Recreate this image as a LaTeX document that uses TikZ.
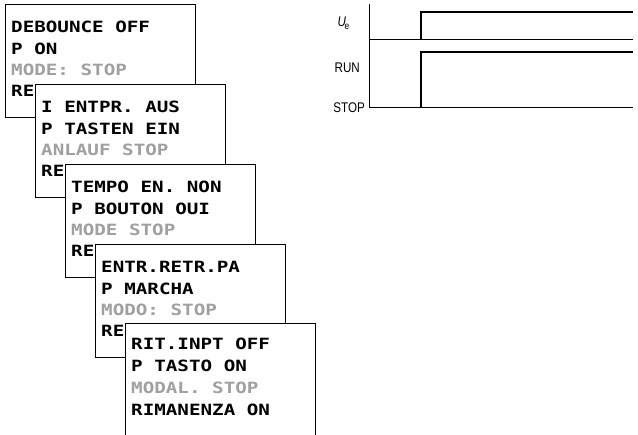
\documentclass[tikz,border=0pt]{standalone}
\usepackage{fontspec}
\setmainfont{Liberation Sans}
\newfontfamily\lcdfam[FakeStretch=1.24]{DejaVu Sans Mono Bold}
\newfontfamily\labfam[FakeStretch=0.83]{Liberation Sans}
\definecolor{lcdgrey}{HTML}{A0A0A0}
\newcommand{\lcdfont}{\lcdfam\fontsize{15.5}{15.5}\selectfont}
\tikzset{
  screen/.style={draw=black, fill=white, line width=0.9pt, minimum width=190pt, minimum height=113pt, anchor=north west, inner sep=0pt},
  lcdtxt/.style={anchor=base west, inner sep=0pt, font=\lcdfont},
  dimtxt/.style={lcdtxt, text=lcdgrey},
  axisline/.style={line width=0.9pt},
  sigline/.style={line width=2pt},
  lab/.style={font=\labfam\fontsize{14}{14}\selectfont, inner sep=0pt}
}
\begin{document}
\begin{tikzpicture}[x=1pt,y=-1pt]
\useasboundingbox (0,0) rectangle (638,435);
% screen 1
\node[screen] (s1) at (5,4) {};
\node[lcdtxt] (t11) at (11,33) {DEBOUNCE OFF};
\node[lcdtxt] (t12) at (11,54.2) {P ON};
\node[dimtxt] (t13) at (11,75.4) {MODE: STOP};
\node[lcdtxt] (t14) at (11,96.6) {RE};
% screen 2
\node[screen] (s2) at (35,84) {};
\node[lcdtxt] (t21) at (41,113) {I ENTPR. AUS};
\node[lcdtxt] (t22) at (41,134.2) {P TASTEN EIN};
\node[dimtxt] (t23) at (41,155.4) {ANLAUF STOP};
\node[lcdtxt] (t24) at (41,176.6) {RE};
% screen 3
\node[screen] (s3) at (65,164) {};
\node[lcdtxt] (t31) at (71,193) {TEMPO EN. NON};
\node[lcdtxt] (t32) at (71,214.2) {P BOUTON OUI};
\node[dimtxt] (t33) at (71,235.4) {MODE STOP};
\node[lcdtxt] (t34) at (71,256.6) {RE};
% screen 4
\node[screen] (s4) at (95,244) {};
\node[lcdtxt] (t41) at (101,273) {ENTR.RETR.PA};
\node[lcdtxt] (t42) at (101,294.2) {P MARCHA};
\node[dimtxt] (t43) at (101,315.4) {MODO: STOP};
\node[lcdtxt] (t44) at (101,336.6) {RE};
% screen 5 (runs off the bottom)
\node[fill=white, minimum width=190pt, minimum height=112pt, anchor=north west, inner sep=0pt] (s5) at (125,323) {};
\draw[line width=0.9pt] (s5.south west) -- (s5.north west) -- (s5.north east) -- (s5.south east);
\node[lcdtxt] (t51) at (131,350) {RIT.INPT OFF};
\node[lcdtxt] (t52) at (131,371.7) {P TASTO ON};
\node[dimtxt] (t53) at (131,393.4) {MODAL. STOP};
\node[lcdtxt] (t54) at (131,415.1) {RIMANENZA ON};
% timing diagram
\coordinate (atop) at (369,4);
\coordinate (aorg) at (369,107.5);
\coordinate (aend) at (633,107.5);
\coordinate (mid0) at (369,39);
\coordinate (mid1) at (633,39);
\draw[axisline] (atop) -- (aorg) -- (aend);
\draw[axisline] (mid0) -- (mid1);
\coordinate (ue0) at (421,39);
\coordinate (ue1) at (421,12);
\coordinate (ue2) at (633,12);
\draw[sigline] (ue0) -- (ue1) -- (ue2);
\coordinate (run0) at (421,107.5);
\coordinate (run1) at (421,52);
\coordinate (run2) at (633,52);
\draw[sigline] (run0) -- (run1) -- (run2);
\node[lab, anchor=west] (lue) at (337.5,23) {\textit{U}\kern-1.5pt\raisebox{-2.5pt}{\fontsize{10}{10}\selectfont e}};
\node[lab, anchor=east] (lrun) at (360,67.5) {RUN};
\node[lab, anchor=east] (lstop) at (365,107.5) {STOP};
\end{tikzpicture}
\end{document}
